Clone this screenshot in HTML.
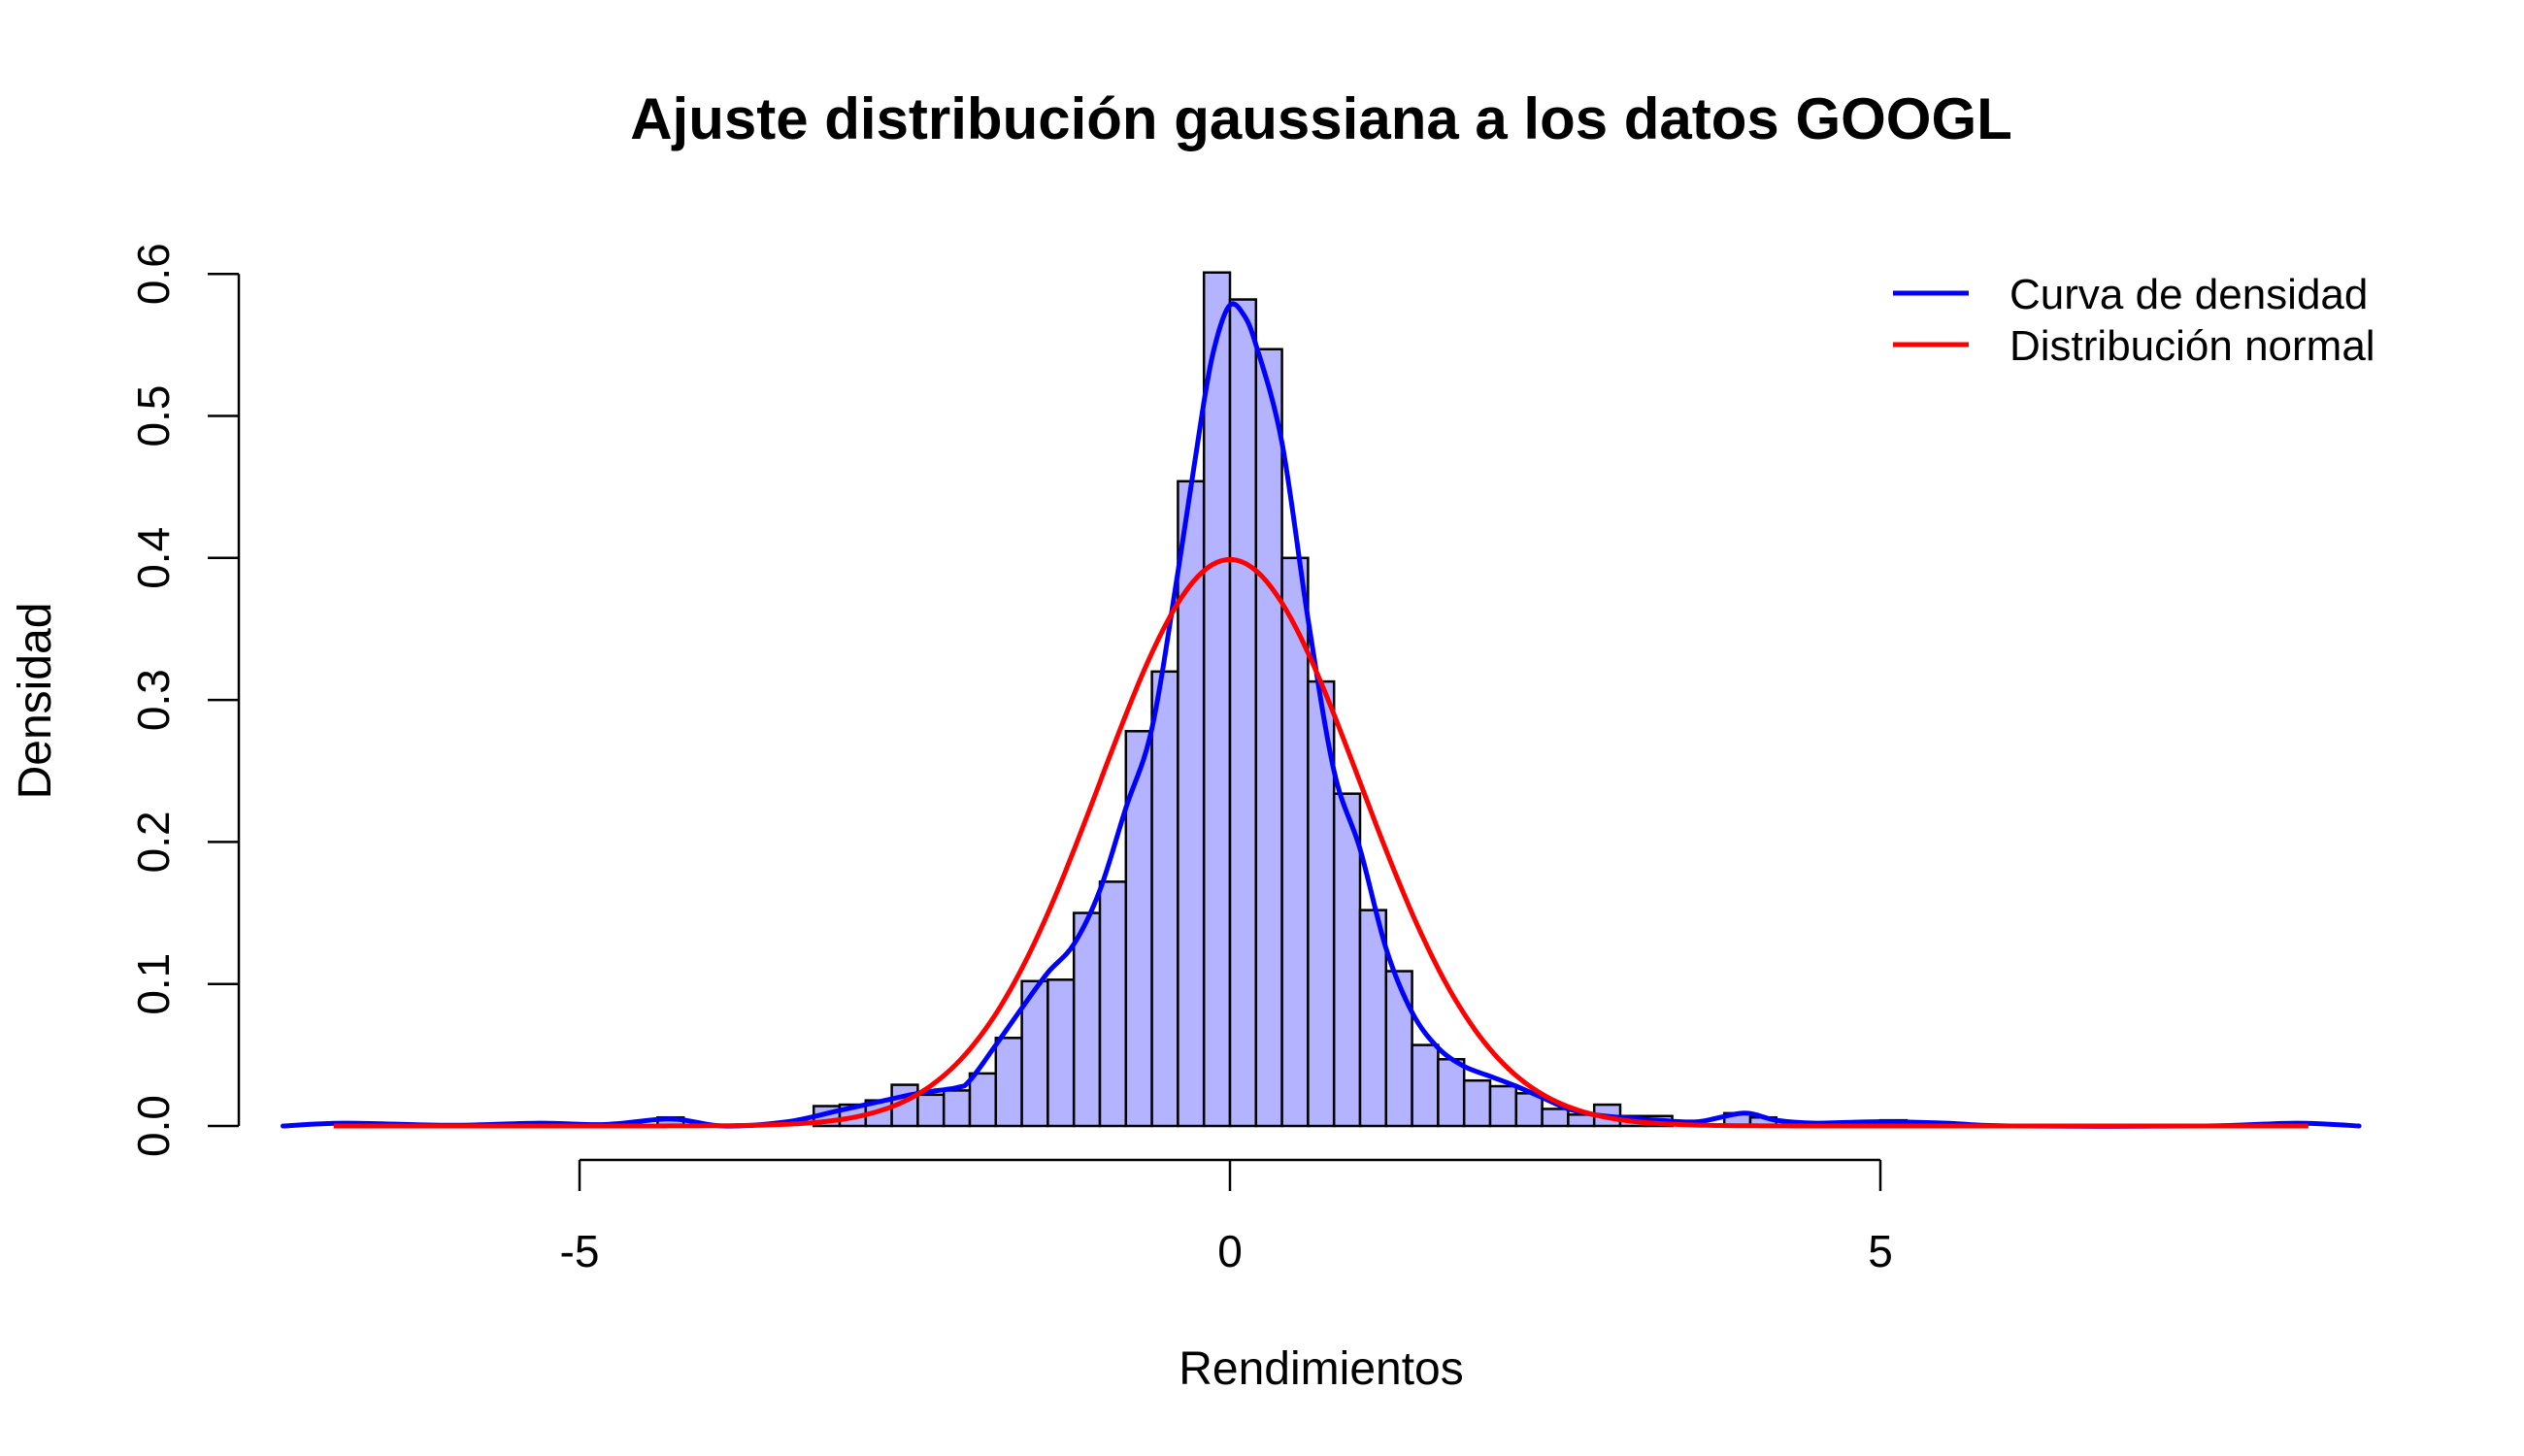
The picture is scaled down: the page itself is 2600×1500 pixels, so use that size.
<!DOCTYPE html>
<html><head><meta charset="utf-8"><style>
html,body{margin:0;padding:0;background:#fff}
svg{display:block}
text{font-family:"Liberation Sans",Arial,sans-serif;fill:#000}
</style></head>
<body>
<svg id="chart" width="2600" height="1500" viewBox="0 0 2600 1500" xmlns="http://www.w3.org/2000/svg">
<text x="1361" y="143" font-size="60" font-weight="bold" text-anchor="middle">Ajuste distribución gaussiana a los datos GOOGL</text>
<text x="1361" y="1426" font-size="48" text-anchor="middle">Rendimientos</text>
<text x="52" y="722" font-size="48" text-anchor="middle" transform="rotate(-90 52 722)">Densidad</text>
<g id="bars"></g>
<g id="curves"></g>
<g id="axes"></g>
<g>
<line x1="1950" y1="302" x2="2028" y2="302" stroke="#0000ff" stroke-width="5"/>
<text x="2070" y="318" font-size="44">Curva de densidad</text>
<line x1="1950" y1="355" x2="2028" y2="355" stroke="#ff0000" stroke-width="5"/>
<text x="2070" y="371" font-size="44">Distribución normal</text>
</g>
</svg>
<script>
const binStarts=[-4.4,-3.2,-3.0,-2.8,-2.6,-2.4,-2.2,-2.0,-1.8,-1.6,-1.4,-1.2,-1.0,-0.8,-0.6,-0.4,-0.2,0.0,0.2,0.4,0.6,0.8,1.0,1.2,1.4,1.6,1.8,2.0,2.2,2.4,2.6,2.8,3.0,3.2,3.8,4.0,5.0];
const binDensity=[0.006,0.014,0.015,0.018,0.029,0.022,0.025,0.037,0.062,0.102,0.103,0.150,0.172,0.278,0.320,0.454,0.601,0.582,0.547,0.400,0.313,0.234,0.152,0.109,0.057,0.047,0.032,0.028,0.023,0.012,0.008,0.015,0.007,0.007,0.009,0.006,0.004];
const binWidth=0.2;
const kdeX=[-7.28,-6.8,-6.0,-5.3,-4.8,-4.3,-3.9,-3.4,-3.0,-2.7,-2.4,-2.1,-2.0,-1.8,-1.6,-1.4,-1.2,-1.0,-0.8,-0.6,-0.4,-0.2,-0.1,0.0,0.1,0.2,0.4,0.6,0.8,1.0,1.2,1.4,1.6,1.8,2.0,2.2,2.4,2.6,2.8,3.0,3.3,3.6,3.95,4.2,4.5,5.0,5.5,6.0,7.5,8.2,8.68];
const kdeY=[0.0,0.002,0.0005,0.002,0.001,0.005,0.0,0.003,0.011,0.017,0.023,0.027,0.032,0.057,0.083,0.108,0.128,0.166,0.224,0.28,0.39,0.51,0.555,0.578,0.572,0.55,0.481,0.357,0.25,0.195,0.125,0.08,0.055,0.042,0.035,0.028,0.02,0.012,0.008,0.006,0.004,0.003,0.009,0.004,0.002,0.003,0.002,0.0,0.0,0.002,0.0];
const normMean=0.0, normSd=1.0, normFrom=-6.89, normTo=8.29;
const xTicks=[-5,0,5];
const yTicks=[0,0.1,0.2,0.3,0.4,0.5,0.6];
const yTickLabels=["0.0","0.1","0.2","0.3","0.4","0.5","0.6"];

const NS="http://www.w3.org/2000/svg";
function sx(v){return 1267+v*134;}
function sy(v){return 1160-v*1463;}
function mk(tag,attrs,parent){const e=document.createElementNS(NS,tag);for(const k in attrs)e.setAttribute(k,attrs[k]);parent.appendChild(e);return e;}

const bars=document.getElementById('bars');
binStarts.forEach((b,i)=>{
  const r=mk('rect',{x:sx(b),y:sy(binDensity[i]),width:sx(b+binWidth)-sx(b),height:sy(0)-sy(binDensity[i]),fill:'#b3b3ff',stroke:'#000','stroke-width':2.5},bars);
  
  
});

const curves=document.getElementById('curves');
const pts=kdeX.map((x,i)=>[sx(x),sy(kdeY[i])]);
let d='M'+pts[0][0].toFixed(1)+' '+pts[0][1].toFixed(1);
for(let i=0;i<pts.length-1;i++){
  const p0=pts[Math.max(0,i-1)],p1=pts[i],p2=pts[i+1],p3=pts[Math.min(pts.length-1,i+2)];
  const c1=[p1[0]+(p2[0]-p0[0])/6,p1[1]+(p2[1]-p0[1])/6];
  const c2=[p2[0]-(p3[0]-p1[0])/6,p2[1]-(p3[1]-p1[1])/6];
  d+='C'+c1[0].toFixed(1)+' '+c1[1].toFixed(1)+' '+c2[0].toFixed(1)+' '+c2[1].toFixed(1)+' '+p2[0].toFixed(1)+' '+p2[1].toFixed(1);
}
const kde=mk('path',{d:d,fill:'none',stroke:'#0000ff','stroke-width':5,'stroke-linejoin':'round','stroke-linecap':'round'},curves);


let dn='';const N=400;
for(let i=0;i<=N;i++){const x=normFrom+(normTo-normFrom)*i/N;const y=Math.exp(-0.5*((x-normMean)/normSd)**2)/(normSd*Math.sqrt(2*Math.PI));dn+=(i?'L':'M')+sx(x).toFixed(1)+' '+sy(y).toFixed(1);}
const nc=mk('path',{d:dn,fill:'none',stroke:'#ff0000','stroke-width':5,'stroke-linejoin':'round'},curves);



const axes=document.getElementById('axes');
const xa=mk('line',{x1:sx(xTicks[0]),y1:1195,x2:sx(xTicks[xTicks.length-1]),y2:1195,stroke:'#000','stroke-width':2.5},axes);


xTicks.forEach(t=>{
  const l=mk('line',{x1:sx(t),y1:1195,x2:sx(t),y2:1227,stroke:'#000','stroke-width':2.5},axes);
  
  
  const tx=mk('text',{x:sx(t),y:1305,'font-size':46,'text-anchor':'middle'},axes);
  tx.textContent=t<0?'-'+Math.abs(t):String(t);
  
  
});
const ya=mk('line',{x1:246,y1:sy(yTicks[0]),x2:246,y2:sy(yTicks[yTicks.length-1]),stroke:'#000','stroke-width':2.5},axes);


yTicks.forEach((t,i)=>{
  const l=mk('line',{x1:214,y1:sy(t),x2:246,y2:sy(t),stroke:'#000','stroke-width':2.5},axes);
  
  
  const tx=mk('text',{x:174,y:sy(t),'font-size':46,'text-anchor':'middle',transform:'rotate(-90 174 '+sy(t)+')'},axes);
  tx.textContent=yTickLabels[i];
  
  
});
</script>
</body></html>
